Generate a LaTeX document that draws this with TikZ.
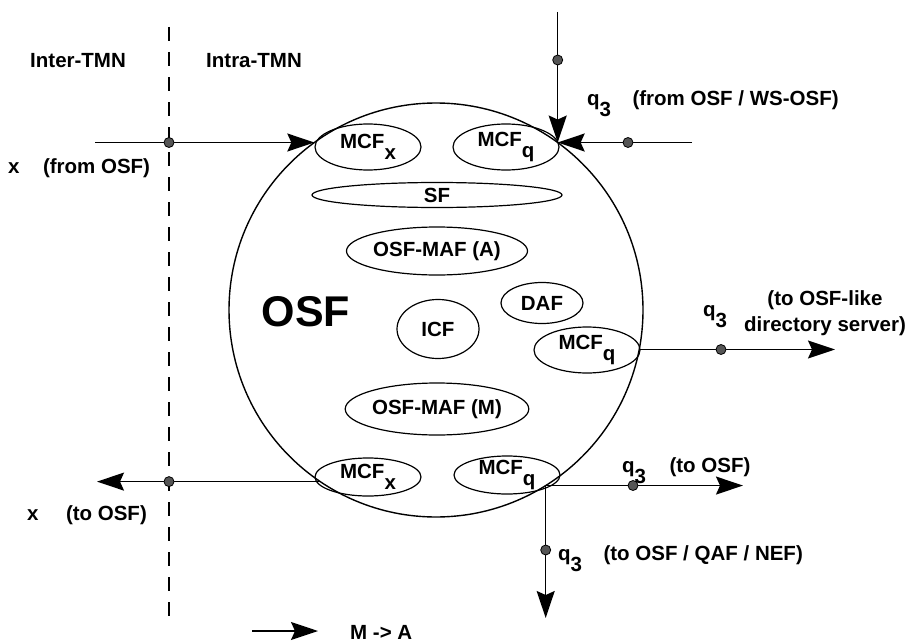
\documentclass[tikz,border=0pt]{standalone}
\usepackage{fontspec}
\setmainfont{Liberation Sans}
\usepackage{tikz}
\usetikzlibrary{shapes.geometric, arrows.meta, positioning}
\definecolor{ink}{HTML}{000000}
\definecolor{tapfill}{HTML}{555555}
\newcommand{\lblsize}{\fontsize{20.5}{26}\selectfont}
\newcommand{\subdn}[1]{\raisebox{-0.55em}{#1}}
\tikzset{
  fn/.style      ={draw=ink, ellipse, line width=1.2pt, inner sep=0pt,
                   outer sep=0pt, font=\lblsize\bfseries},
  osfring/.style ={draw=ink, circle, line width=1.4pt, minimum size=414pt,
                   inner sep=0pt, outer sep=0pt},
  flow/.style    ={-{Stealth[length=27pt,width=18pt,inset=4pt]},
                   line width=1.5pt, draw=ink},
  divider/.style ={draw=ink, line width=2pt, dash pattern=on 14pt off 11pt},
  tap/.style     ={circle, draw=ink, fill=tapfill, line width=0.8pt,
                   minimum size=10pt, inner sep=0pt},
  txt/.style     ={font=\lblsize\bfseries, inner sep=0pt, text=ink},
  bigname/.style ={font=\fontsize{43}{50}\selectfont\bfseries, inner sep=0pt}
}

\begin{document}
\begin{tikzpicture}[x=1pt, y=-1pt]
  \useasboundingbox (0,0) rectangle (910,642);

  % TMN boundary
  \coordinate (divtop) at (169,27);
  \coordinate (divbot) at (169,620);
  \draw[divider] (divtop) -- (divbot);
  \node[txt, anchor=base west] (inter) at (30,67)  {Inter-TMN};
  \node[txt, anchor=base west] (intra) at (206,67) {Intra-TMN};

  % OSF and its function blocks
  \node[osfring] (osf) at (436,310) {};
  \node[bigname] (osftitle) at (306,312) {OSF};

  \node[fn, minimum width=106pt, minimum height=46pt] (mcfxtop) at (368,147) {MCF\subdn{x}};
  \node[fn, minimum width=106pt, minimum height=46pt] (mcfqtop) at (506,147) {MCF\subdn{q}};
  \node[fn, minimum width=250pt, minimum height=25pt] (sf)      at (437,195) {SF};
  \node[fn, minimum width=181pt, minimum height=48pt] (mafa)    at (437,251) {OSF-MAF (A)};
  \node[fn, minimum width=82pt,  minimum height=59pt] (icf)     at (438,329) {ICF};
  \node[fn, minimum width=82pt,  minimum height=41pt] (daf)     at (542,303) {DAF};
  \node[fn, minimum width=106pt, minimum height=46pt] (mcfqmid) at (587,350) {MCF\subdn{q}};
  \node[fn, minimum width=181pt, minimum height=52pt] (mafm)    at (437,409) {OSF-MAF (M)};
  \node[fn, minimum width=106pt, minimum height=38pt, inner ysep=-3pt] (mcfxbot) at (368,477) {MCF\subdn{x}};
  \node[fn, minimum width=106pt, minimum height=38pt, inner ysep=-3pt] (mcfqbot) at (507,475) {MCF\subdn{q}};

  % free ends of the reference points
  \coordinate (xinfrom)   at (95,142.5);
  \coordinate (qtopfrom)  at (557.7,12);
  \coordinate (qsidefrom) at (692,142.5);
  \coordinate (dirto)     at (835,349.5);
  \coordinate (osfto)     at (743,485.5);
  \coordinate (nefto)     at (545.7,618);
  \coordinate (xoutto)    at (97,481.7);

  \draw[flow] (xinfrom)   -- (osf.126 |- xinfrom);
  \draw[flow] (qtopfrom)  -- (qtopfrom |- osf.54);
  \draw[flow] (qsidefrom) -- (osf.54 |- qsidefrom);
  \draw[flow] (osf.-11)   -- (osf.-11 -| dirto);
  \draw[flow] (osf.-58)   -- (osf.-58 -| osfto);
  \draw[flow] (osf.-58)   -- (osf.-58 |- nefto);
  \draw[flow] (osf.236)   -- (osf.236 -| xoutto);

  \node[tap] (tapxin)   at (divtop |- xinfrom) {};
  \node[tap] (tapqtop)  at (557.7,60) {};
  \node[tap] (tapqside) at (628,142.5) {};
  \node[tap] (tapdir)   at (721,349.5) {};
  \node[tap] (taposf)   at (633,485.5) {};
  \node[tap] (tapnef)   at (545.7,550) {};
  \node[tap] (tapxout)  at (divtop |- osf.236) {};

  % reference point labels
  \node[txt, anchor=base west] (xinlbl) at (8,173) {x};
  \node[txt, base right=23pt of xinlbl] (xinnote) {(from OSF)};
  \node[txt, anchor=base west] (xoutlbl) at (27,520) {x};
  \node[txt, base right=27pt of xoutlbl] (xoutnote) {(to OSF)};

  \node[txt, anchor=base west] (qtoplbl) at (587,105) {q\subdn{3}};
  \node[txt, base right=21pt of qtoplbl] (qtopnote) {(from OSF / WS-OSF)};
  \node[txt, anchor=base west] (qdirlbl) at (703,316) {q\subdn{3}};
  \node[txt, align=center] (qdirnote) at (825,313) {(to OSF-like\\directory server)};
  \node[txt, anchor=base west] (qosflbl) at (622,472) {q\subdn{3}};
  \node[txt, base right=23pt of qosflbl] (qosfnote) {(to OSF)};
  \node[txt, anchor=base west] (qneflbl) at (558,560) {q\subdn{3}};
  \node[txt, base right=21pt of qneflbl] (qnefnote) {(to OSF / QAF / NEF)};

  % legend
  \coordinate (legfrom) at (252,631);
  \coordinate (legto)   at (318,631);
  \draw[flow] (legfrom) -- (legto);
  \node[txt, anchor=base west] (legnote) at (350,639) {M -> A};

\end{tikzpicture}
\end{document}
